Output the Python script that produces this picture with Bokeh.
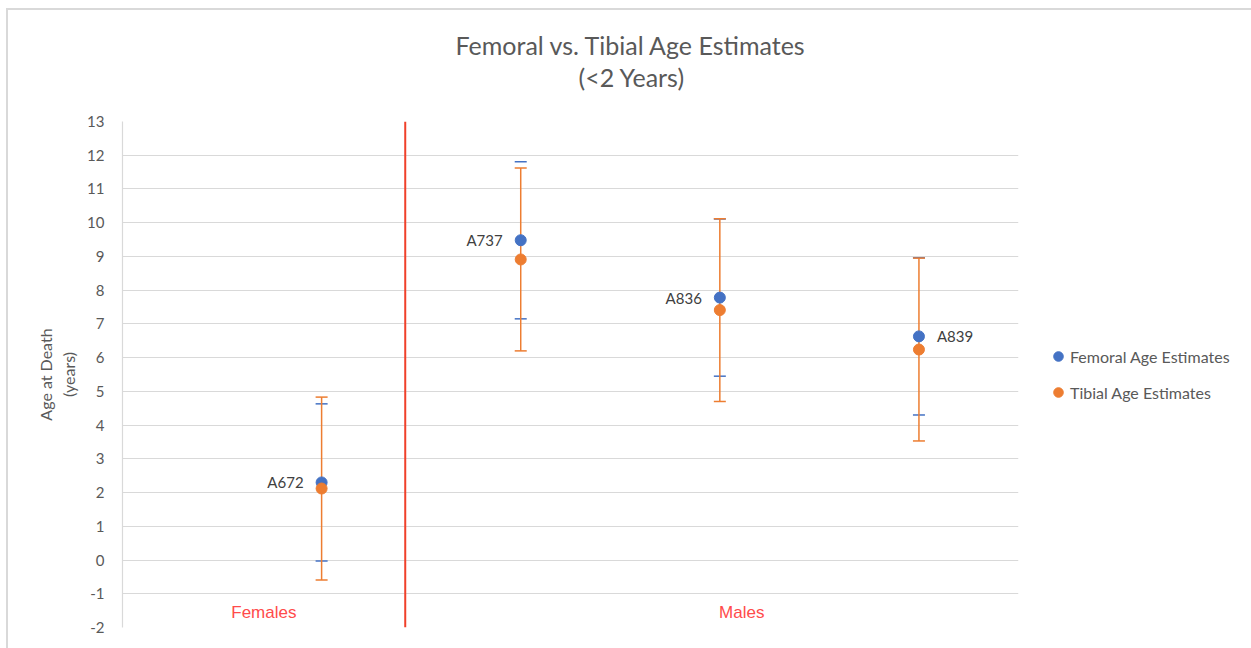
from bokeh.plotting import figure
from bokeh.models import (ColumnDataSource, Whisker, Legend, LegendItem, Label, Title,
                          Range1d, TeeHead, FixedTicker, Span, PrintfTickFormatter)
from bokeh.core.properties import value, field
from bokeh.embed import file_html
from bokeh.resources import INLINE

# ---- data ----
specimens = ["A672", "A737", "A836", "A839"]
positions = [1, 2, 3, 4]
femoral = [2.30, 9.48, 7.78, 6.63]
femoral_err = [2.33, 2.33, 2.33, 2.33]
tibial = [2.12, 8.91, 7.41, 6.24]
tibial_err = [2.71, 2.71, 2.71, 2.71]
label_side = ["left", "left", "left", "right"]
groups = ["Females", "Males"]
group_x = [0.71, 3.11]
group_y = [-1.55, -1.55]
divider_x = 1.42
y_ticks = list(range(-2, 14))
title_lines = ["Femoral vs. Tibial Age Estimates", "(<2 Years)"]

BLUE = "#4472C4"
ORANGE = "#ED7D31"
RED = "#F0402A"
GREY_TXT = "#595959"
FONT = "Lato"

fem_src = ColumnDataSource(dict(
    x=positions, y=femoral,
    upper=[v + e for v, e in zip(femoral, femoral_err)],
    lower=[v - e for v, e in zip(femoral, femoral_err)],
))
tib_src = ColumnDataSource(dict(
    x=positions, y=tibial,
    upper=[v + e for v, e in zip(tibial, tibial_err)],
    lower=[v - e for v, e in zip(tibial, tibial_err)],
))
lab_src = ColumnDataSource(dict(
    x=positions, y=femoral, text=specimens,
    align=["right" if s == "left" else "left" for s in label_side],
    xoff=[-18 if s == "left" else 18 for s in label_side],
))

p = figure(frame_width=896, frame_height=506,
           x_range=Range1d(0, 4.5), y_range=Range1d(-2, 13),
           min_border_left=114, min_border_top=111, min_border_bottom=21,
           min_border_right=225,
           output_backend="svg", toolbar_location=None)
p.outline_line_color = None
p.background_fill_color = "white"
p.border_fill_color = "white"
p.styles = {"margin-left": "6px", "margin-top": "8px",
            "border-left": "2px solid #d9d9d9", "border-top": "2px solid #d9d9d9"}

# title: two lines (inner line added first)
p.add_layout(Title(text=title_lines[1], align="left", offset=456, standoff=60,
                   text_font=FONT, text_font_size="25px", text_font_style="normal",
                   text_color=GREY_TXT), "above")
p.add_layout(Title(text=title_lines[0], align="left", offset=333, standoff=-60,
                   text_font=FONT, text_font_size="25px", text_font_style="normal",
                   text_color=GREY_TXT), "above")

p.xaxis.visible = False
p.xgrid.visible = False
p.ygrid.grid_line_color = "#d9d9d9"
p.ygrid.grid_line_width = 1.2

ya = p.yaxis[0]
ya.ticker = FixedTicker(ticks=y_ticks)
ya.formatter = PrintfTickFormatter(format="%d")
ya.major_tick_line_color = None
ya.minor_tick_line_color = None
ya.axis_line_color = "#d9d9d9"
ya.axis_line_width = 1.2
ya.major_label_text_font = FONT
ya.major_label_text_font_size = "15px"
ya.major_label_text_color = GREY_TXT
ya.major_label_standoff = 12
ya.axis_label = "Age at Death\n(years)"
ya.axis_label_text_font = FONT
ya.axis_label_text_font_size = "16px"
ya.axis_label_text_font_style = "normal"
ya.axis_label_text_color = GREY_TXT
ya.axis_label_standoff = 6

# divider
p.add_layout(Span(location=divider_x, dimension="height", line_color=RED, line_width=2))

# error bars (femoral bar line hidden behind the tibial one, only caps visible)
fw = Whisker(base="x", upper="upper", lower="lower", source=fem_src,
             line_color=None,
             upper_head=TeeHead(size=12, line_color=BLUE, line_width=1.5),
             lower_head=TeeHead(size=12, line_color=BLUE, line_width=1.5))
tw = Whisker(base="x", upper="upper", lower="lower", source=tib_src,
             line_color=ORANGE, line_width=1.5,
             upper_head=TeeHead(size=12, line_color=ORANGE, line_width=1.5),
             lower_head=TeeHead(size=12, line_color=ORANGE, line_width=1.5))
p.add_layout(fw)
p.add_layout(tw)

rf = p.scatter("x", "y", source=fem_src, size=11, color=BLUE)
rt = p.scatter("x", "y", source=tib_src, size=11, color=ORANGE)

p.text(x="x", y="y", text="text", source=lab_src, text_align=field("align"),
       x_offset=field("xoff"), text_baseline="middle",
       text_font=value(FONT), text_font_size="15px", text_color="#404040")

for g, gx, gy in zip(groups, group_x, group_y):
    p.add_layout(Label(x=gx, y=gy, text=g, text_align="center", text_baseline="middle",
                       text_font="Liberation Sans", text_font_size="17px", text_color="#FF4B4B"))

legend = Legend(items=[LegendItem(label="Femoral Age Estimates", renderers=[rf]),
                       LegendItem(label="Tibial Age Estimates", renderers=[rt])],
                location="center_left", margin=28, padding=0, border_line_color=None,
                glyph_width=24, glyph_height=24, label_standoff=0, spacing=12,
                label_text_font=FONT, label_text_font_size="16px",
                label_text_color=GREY_TXT, background_fill_alpha=0)
p.add_layout(legend, "right")

open("out.html", "w").write(file_html(p, INLINE))
